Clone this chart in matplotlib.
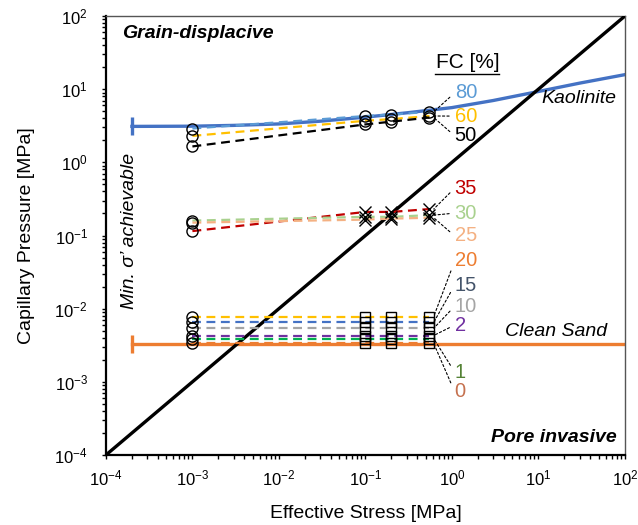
import numpy as np
import matplotlib
matplotlib.use('Agg')
import matplotlib.pyplot as plt
from matplotlib.ticker import FuncFormatter

plt.rcParams['font.family'] = ['Liberation Sans', 'DejaVu Sans']
plt.rcParams['mathtext.fontset'] = 'custom'
plt.rcParams['mathtext.rm'] = 'Liberation Sans'
plt.rcParams['mathtext.it'] = 'Liberation Sans:italic'

# --- data ---
stress = [1e-3, 0.1, 0.2, 0.55]

# upper group (circles)
fc_upper = ['80', '60', '50']
pc_upper = [[2.9, 4.3, 4.5, 4.9],
            [2.3, 3.7, 3.9, 4.3],
            [1.65, 3.3, 3.6, 4.1]]
# middle group (x markers)
fc_mid = ['35', '30', '25']
pc_mid = [[0.115, 0.21, 0.21, 0.23],
          [0.16, 0.18, 0.18, 0.19],
          [0.15, 0.165, 0.17, 0.175]]
# lower group (squares)
fc_low = ['20', '15', '10', '2', '1', '0']
pc_low = [[7.8e-3] * 4,
          [6.5e-3] * 4,
          [5.4e-3] * 4,
          [4.3e-3] * 4,
          [3.9e-3] * 4,
          [3.35e-3] * 4]

kaol_x = [2e-4, 1e-3, 3e-3, 1e-2, 3e-2, 0.1, 0.3, 1, 3, 10, 30, 100]
kaol_y = [3.1, 3.12, 3.2, 3.35, 3.65, 4.15, 4.75, 5.6, 7.0, 9.3, 12.1, 15.8]
sand_x = [2e-4, 100]
sand_y = [3.3e-3, 3.3e-3]
one_x = [1e-4, 100]
one_y = [1e-4, 100]

upper_line = ['#5B9BD5', '#FFC000', 'black']
upper_txt = ['#5B9BD5', '#FFC000', 'black']
mid_line = ['#C00000', '#A9D18E', '#F4B183']
mid_txt = ['#C00000', '#A9D18E', '#F4B183']
low_line = ['#FFC000', '#4472C4', '#A5A5A5', '#7030A0', '#00B050', '#ED7D31']
low_txt = ['#ED7D31', '#44546A', '#A5A5A5', '#7030A0', '#548235', '#C5714F']

fig = plt.figure(figsize=(6.38, 5.25), dpi=100)
ax = fig.add_axes([0.166, 0.1333, 0.8135, 0.8362])

ax.plot(one_x, one_y, color='black', lw=2.4, zorder=3)
ax.plot(kaol_x, kaol_y, color='#4472C4', lw=2.4, zorder=2)
ax.plot(kaol_x[0], kaol_y[0], marker='|', ms=13, mew=2.4, color='#4472C4')
ax.plot(sand_x, sand_y, color='#ED7D31', lw=2.4, zorder=2)
ax.plot(sand_x[0], sand_y[0], marker='|', ms=13, mew=2.4, color='#ED7D31')

dash = (0, (4, 2.5))
label_x = 0.672
upper_ly = [0.825, 0.772, 0.727]
mid_ly = [0.608, 0.551, 0.499]
low_ly = [0.442, 0.387, 0.339, 0.296, 0.189, 0.144]

groups = [(fc_upper, pc_upper, upper_line, upper_txt, upper_ly, 'o', 8),
          (fc_mid, pc_mid, mid_line, mid_txt, mid_ly, 'x', 8),
          (fc_low, pc_low, low_line, low_txt, low_ly, 's', 7.5)]

for names, vals, lcols, tcols, lys, mk, ms in groups:
    for name, v, lc, tc, ly in zip(names, vals, lcols, tcols, lys):
        ax.plot(stress, v, ls=dash, color=lc, lw=1.6, zorder=4)
        ax.plot(stress[0], v[0], 'o', ms=8, mfc='none', mec='black', mew=1.0, zorder=5)
        ax.plot(stress[1:], v[1:], mk, ms=ms, mfc='none', mec='black', mew=1.0, zorder=5)
        ax.annotate(name, xy=(stress[-1] * 1.12, v[-1]), xycoords='data',
                    xytext=(label_x, ly), textcoords='axes fraction',
                    fontsize=14.5, color=tc, va='center', ha='left',
                    arrowprops=dict(arrowstyle='-', ls=(0, (2, 2)), lw=0.8,
                                    color='black', shrinkA=2, shrinkB=0,
                                    relpos=(0, 0.5)))

ax.text(0.697, 0.893, 'FC [%]', transform=ax.transAxes, fontsize=15,
        ha='center', va='center')
ax.plot([0.634, 0.758], [0.867, 0.867], transform=ax.transAxes,
        color='black', lw=1.0)

ax.text(0.031, 0.961, 'Grain-displacive', transform=ax.transAxes,
        fontsize=14, fontweight='bold', style='italic', ha='left', va='center')
ax.text(0.985, 0.039, 'Pore invasive', transform=ax.transAxes,
        fontsize=14, fontweight='bold', style='italic', ha='right', va='center')
ax.text(0.984, 0.813, 'Kaolinite', transform=ax.transAxes,
        fontsize=14, style='italic', ha='right', va='center')
ax.text(0.965, 0.282, 'Clean Sand', transform=ax.transAxes,
        fontsize=14, style='italic', ha='right', va='center')
ax.text(0.046, 0.51, 'Min. σ’ achievable', transform=ax.transAxes,
        fontsize=14, style='italic', rotation=90, ha='center', va='center')

ax.set_xscale('log')
ax.set_yscale('log')
ax.set_xlim(1e-4, 100)
ax.set_ylim(1e-4, 100)
fmt = FuncFormatter(lambda v, p: r'$\mathdefault{10^{%d}}$' % round(np.log10(v)))
ax.xaxis.set_major_formatter(fmt)
ax.yaxis.set_major_formatter(fmt)
ax.set_xlabel('Effective Stress [MPa]', fontsize=14, labelpad=12)
ax.set_ylabel('Capillary Pressure [MPa]', fontsize=14, labelpad=14)
ax.tick_params(which='both', direction='out', length=3, width=1,
               labelsize=12, top=False, right=False)
ax.tick_params(axis='x', pad=7)
ax.tick_params(axis='y', pad=10)
for side in ['left', 'bottom']:
    ax.spines[side].set_linewidth(1.6)
for side in ['top', 'right']:
    ax.spines[side].set_linewidth(1.0)
    ax.spines[side].set_color('#555555')

fig.savefig('out.png', dpi=100)
